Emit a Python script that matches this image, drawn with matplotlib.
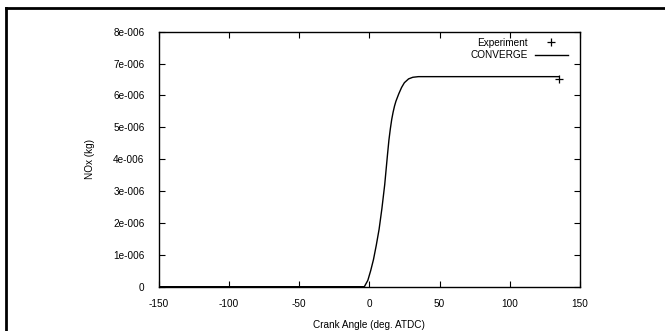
import matplotlib
matplotlib.use("Agg")
from matplotlib import pyplot as plt
from matplotlib.lines import Line2D

# CONVERGE simulation curve (crank angle in deg ATDC, NOx in kg)
sim_ca = [-150, -3.5, -1, 1, 3, 5, 7, 9, 11, 13, 14, 15, 16, 17, 18, 19, 21, 23, 25, 28, 31, 35, 135]
sim_nox = [0, 0, 0.2e-6, 0.5e-6, 0.85e-6, 1.3e-6, 1.8e-6, 2.45e-6, 3.2e-6, 4.15e-6, 4.6e-6,
           4.95e-6, 5.25e-6, 5.48e-6, 5.67e-6, 5.82e-6, 6.05e-6, 6.25e-6, 6.4e-6, 6.52e-6,
           6.57e-6, 6.59e-6, 6.59e-6]

# experimental value at end of cycle
exp_ca = [135]
exp_nox = [6.51e-6]

x_ticks = [-150, -100, -50, 0, 50, 100, 150]
y_ticks = [0, 1e-6, 2e-6, 3e-6, 4e-6, 5e-6, 6e-6, 7e-6, 8e-6]
y_tick_labels = ["0", "1e-006", "2e-006", "3e-006", "4e-006", "5e-006", "6e-006", "7e-006", "8e-006"]

plt.rcParams["font.family"] = ["Liberation Sans", "DejaVu Sans"]
FS = 7.2

fig = plt.figure(figsize=(6.65, 3.31), dpi=100)
W, H = 665, 331
ax = fig.add_axes([158.5 / W, 1 - 286.7 / H, (580 - 158.5) / W, (286.7 - 31.7) / H])

ax.plot(exp_ca, exp_nox, linestyle="none", marker="+", color="black",
        markersize=6, markeredgewidth=0.9, label="Experiment")
ax.plot(sim_ca, sim_nox, color="black", linewidth=1.0, label="CONVERGE")

ax.set_xlim(-150, 150)
ax.set_ylim(0, 8e-6)
ax.set_xticks(x_ticks)
ax.set_xticklabels([str(t) for t in x_ticks])
ax.set_yticks(y_ticks)
ax.set_yticklabels(y_tick_labels)
ax.tick_params(direction="in", top=True, right=True, length=4, width=0.8,
               labelsize=FS)
ax.tick_params(axis="x", pad=9)
ax.tick_params(axis="y", pad=10)
for s in ax.spines.values():
    s.set_linewidth(1.0)

ax.set_xlabel("Crank Angle (deg. ATDC)", fontsize=FS, labelpad=8)
ax.set_ylabel("NOx (kg)", fontsize=FS, labelpad=13)

leg = ax.legend(loc="upper right", frameon=False, markerfirst=False, fontsize=FS,
                handlelength=3.3, handletextpad=0.7, labelspacing=0.25,
                borderaxespad=0.2, bbox_to_anchor=(0.985, 1.0))
for t in leg.get_texts():
    t.set_ha("right")

# outer frame (cropped page border)
fig.add_artist(Line2D([6 / W, 6 / W], [0, 1 - 8 / H], color="black", linewidth=2,
                      transform=fig.transFigure))
fig.add_artist(Line2D([6 / W, 1], [1 - 8 / H, 1 - 8 / H], color="black", linewidth=2,
                      transform=fig.transFigure))

fig.savefig("out.png", dpi=100, facecolor="white")
